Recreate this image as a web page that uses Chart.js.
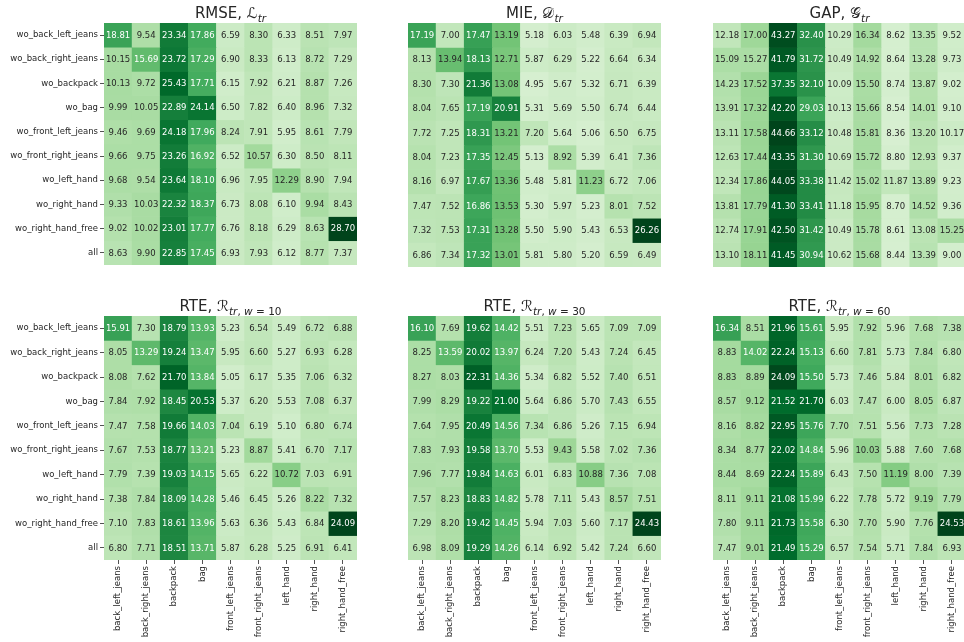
<!DOCTYPE html>
<html>
<head>
<meta charset="utf-8">
<script src="https://cdn.jsdelivr.net/npm/chart.js@4.4.1/dist/chart.umd.min.js"></script>
<style>
  html, body { margin: 0; padding: 0; background: #fff; overflow: hidden; width: 964px; height: 642px; }
  canvas { position: absolute; }
</style>
</head>
<body>
<canvas id="pRmse"></canvas>
<canvas id="pMie"></canvas>
<canvas id="pGap"></canvas>
<canvas id="pRte10"></canvas>
<canvas id="pRte30"></canvas>
<canvas id="pRte60"></canvas>
<script>
// Held-out scenario (rows) vs. evaluated sensor placement (columns)
const rowLabels = [
  'wo_back_left_jeans', 'wo_back_right_jeans', 'wo_backpack', 'wo_bag',
  'wo_front_left_jeans', 'wo_front_right_jeans', 'wo_left_hand', 'wo_right_hand',
  'wo_right_hand_free', 'all'
];
const colLabels = [
  'back_left_jeans', 'back_right_jeans', 'backpack', 'bag', 'front_left_jeans',
  'front_right_jeans', 'left_hand', 'right_hand', 'right_hand_free'
];

const rmse = [
  [18.81, 9.54, 23.34, 17.86, 6.59, 8.30, 6.33, 8.51, 7.97],
  [10.15, 15.69, 23.72, 17.29, 6.90, 8.33, 6.13, 8.72, 7.29],
  [10.13, 9.72, 25.43, 17.71, 6.15, 7.92, 6.21, 8.87, 7.26],
  [9.99, 10.05, 22.89, 24.14, 6.50, 7.82, 6.40, 8.96, 7.32],
  [9.46, 9.69, 24.18, 17.96, 8.24, 7.91, 5.95, 8.61, 7.79],
  [9.66, 9.75, 23.26, 16.92, 6.52, 10.57, 6.30, 8.50, 8.11],
  [9.68, 9.54, 23.64, 18.10, 6.96, 7.95, 12.29, 8.90, 7.94],
  [9.33, 10.03, 22.32, 18.37, 6.73, 8.08, 6.10, 9.94, 8.43],
  [9.02, 10.02, 23.01, 17.77, 6.76, 8.18, 6.29, 8.63, 28.70],
  [8.63, 9.90, 22.85, 17.45, 6.93, 7.93, 6.12, 8.77, 7.37]
];
const mie = [
  [17.19, 7.00, 17.47, 13.19, 5.18, 6.03, 5.48, 6.39, 6.94],
  [8.13, 13.94, 18.13, 12.71, 5.87, 6.29, 5.22, 6.64, 6.34],
  [8.30, 7.30, 21.36, 13.08, 4.95, 5.67, 5.32, 6.71, 6.39],
  [8.04, 7.65, 17.19, 20.91, 5.31, 5.69, 5.50, 6.74, 6.44],
  [7.72, 7.25, 18.31, 13.21, 7.20, 5.64, 5.06, 6.50, 6.75],
  [8.04, 7.23, 17.35, 12.45, 5.13, 8.92, 5.39, 6.41, 7.36],
  [8.16, 6.97, 17.67, 13.36, 5.48, 5.81, 11.23, 6.72, 7.06],
  [7.47, 7.52, 16.86, 13.53, 5.30, 5.97, 5.23, 8.01, 7.52],
  [7.32, 7.53, 17.31, 13.28, 5.50, 5.90, 5.43, 6.53, 26.26],
  [6.86, 7.34, 17.32, 13.01, 5.81, 5.80, 5.20, 6.59, 6.49]
];
const gap = [
  [12.18, 17.00, 43.27, 32.40, 10.29, 16.34, 8.62, 13.35, 9.52],
  [15.09, 15.27, 41.79, 31.72, 10.49, 14.92, 8.64, 13.28, 9.73],
  [14.23, 17.52, 37.35, 32.10, 10.09, 15.50, 8.74, 13.87, 9.02],
  [13.91, 17.32, 42.20, 29.03, 10.13, 15.66, 8.54, 14.01, 9.10],
  [13.11, 17.58, 44.66, 33.12, 10.48, 15.81, 8.36, 13.20, 10.17],
  [12.63, 17.44, 43.35, 31.30, 10.69, 15.72, 8.80, 12.93, 9.37],
  [12.34, 17.86, 44.05, 33.38, 11.42, 15.02, 11.87, 13.89, 9.23],
  [13.81, 17.79, 41.30, 33.41, 11.18, 15.95, 8.70, 14.52, 9.36],
  [12.74, 17.91, 42.50, 31.42, 10.49, 15.78, 8.61, 13.08, 15.25],
  [13.10, 18.11, 41.45, 30.94, 10.62, 15.68, 8.44, 13.39, 9.00]
];
const rte10 = [
  [15.91, 7.30, 18.79, 13.93, 5.23, 6.54, 5.49, 6.72, 6.88],
  [8.05, 13.29, 19.24, 13.47, 5.95, 6.60, 5.27, 6.93, 6.28],
  [8.08, 7.62, 21.70, 13.84, 5.05, 6.17, 5.35, 7.06, 6.32],
  [7.84, 7.92, 18.45, 20.53, 5.37, 6.20, 5.53, 7.08, 6.37],
  [7.47, 7.58, 19.66, 14.03, 7.04, 6.19, 5.10, 6.80, 6.74],
  [7.67, 7.53, 18.77, 13.21, 5.23, 8.87, 5.41, 6.70, 7.17],
  [7.79, 7.39, 19.03, 14.15, 5.65, 6.22, 10.72, 7.03, 6.91],
  [7.38, 7.84, 18.09, 14.28, 5.46, 6.45, 5.26, 8.22, 7.32],
  [7.10, 7.83, 18.61, 13.96, 5.63, 6.36, 5.43, 6.84, 24.09],
  [6.80, 7.71, 18.51, 13.71, 5.87, 6.28, 5.25, 6.91, 6.41]
];
const rte30 = [
  [16.10, 7.69, 19.62, 14.42, 5.51, 7.23, 5.65, 7.09, 7.09],
  [8.25, 13.59, 20.02, 13.97, 6.24, 7.20, 5.43, 7.24, 6.45],
  [8.27, 8.03, 22.31, 14.36, 5.34, 6.82, 5.52, 7.40, 6.51],
  [7.99, 8.29, 19.22, 21.00, 5.64, 6.86, 5.70, 7.43, 6.55],
  [7.64, 7.95, 20.49, 14.56, 7.34, 6.86, 5.26, 7.15, 6.94],
  [7.83, 7.93, 19.58, 13.70, 5.53, 9.43, 5.58, 7.02, 7.36],
  [7.96, 7.77, 19.84, 14.63, 6.01, 6.83, 10.88, 7.36, 7.08],
  [7.57, 8.23, 18.83, 14.82, 5.78, 7.11, 5.43, 8.57, 7.51],
  [7.29, 8.20, 19.42, 14.45, 5.94, 7.03, 5.60, 7.17, 24.43],
  [6.98, 8.09, 19.29, 14.26, 6.14, 6.92, 5.42, 7.24, 6.60]
];
const rte60 = [
  [16.34, 8.51, 21.96, 15.61, 5.95, 7.92, 5.96, 7.68, 7.38],
  [8.83, 14.02, 22.24, 15.13, 6.60, 7.81, 5.73, 7.84, 6.80],
  [8.83, 8.89, 24.09, 15.50, 5.73, 7.46, 5.84, 8.01, 6.82],
  [8.57, 9.12, 21.52, 21.70, 6.03, 7.47, 6.00, 8.05, 6.87],
  [8.16, 8.82, 22.95, 15.76, 7.70, 7.51, 5.56, 7.73, 7.28],
  [8.34, 8.77, 22.02, 14.84, 5.96, 10.03, 5.88, 7.60, 7.68],
  [8.44, 8.69, 22.24, 15.89, 6.43, 7.50, 11.19, 8.00, 7.39],
  [8.11, 9.11, 21.08, 15.99, 6.22, 7.78, 5.72, 9.19, 7.79],
  [7.80, 9.11, 21.73, 15.58, 6.30, 7.70, 5.90, 7.76, 24.53],
  [7.47, 9.01, 21.49, 15.29, 6.57, 7.54, 5.71, 7.84, 6.93]
];

// Title pieces: [text, style]; styles: rm, cal, sub (upright subscript), subit (italic subscript)
const titleRmse = [['RMSE, ', 'rm'], ['\u2112', 'cal'], ['tr', 'subit']];
const titleMie = [['MIE, ', 'rm'], ['\u{1D49F}', 'cal'], ['tr', 'subit']];
const titleGap = [['GAP, ', 'rm'], ['\u{1D4A2}', 'cal'], ['tr', 'subit']];
const titleRte10 = [['RTE, ', 'rm'], ['\u211B', 'cal'], ['tr', 'subit'], [', ', 'sub'], ['w', 'subit'], [' = 10', 'sub']];
const titleRte30 = [['RTE, ', 'rm'], ['\u211B', 'cal'], ['tr', 'subit'], [', ', 'sub'], ['w', 'subit'], [' = 30', 'sub']];
const titleRte60 = [['RTE, ', 'rm'], ['\u211B', 'cal'], ['tr', 'subit'], [', ', 'sub'], ['w', 'subit'], [' = 60', 'sub']];

// matplotlib "Greens" anchor colours
const GREENS = [
  [247, 252, 245], [229, 245, 224], [199, 233, 192], [161, 217, 155], [116, 196, 118],
  [65, 171, 93], [35, 139, 69], [0, 109, 44], [0, 68, 27]
];
function greens(t) {
  t = Math.max(0, Math.min(1, t));
  const k = Math.min(255, Math.floor(t * 256));
  const p = (k / 255) * (GREENS.length - 1);
  const i = Math.min(GREENS.length - 2, Math.floor(p));
  const f = p - i;
  return GREENS[i].map((c, n) => c + (GREENS[i + 1][n] - c) * f);
}
function luminance(rgb) {
  const lin = rgb.map(c => {
    c /= 255;
    return c <= 0.03928 ? c / 12.92 : Math.pow((c + 0.055) / 1.055, 2.4);
  });
  return 0.2126 * lin[0] + 0.7152 * lin[1] + 0.0722 * lin[2];
}
const css = rgb => `rgb(${rgb.map(Math.round).join(',')})`;

const INK = '#262626';
const FONT = 'DejaVu Sans';

function titlePlugin(parts, baseline) {
  const styles = {
    rm: { font: `15px "${FONT}"`, dy: 0 },
    cal: { font: `15px "${FONT}"`, dy: 0 },
    sub: { font: `10.5px "${FONT}"`, dy: 3.5 },
    subit: { font: `italic 10.5px "${FONT}"`, dy: 3.5 }
  };
  return {
    id: 'heatTitle',
    afterDraw(chart) {
      const ctx = chart.ctx;
      const area = chart.chartArea;
      ctx.save();
      ctx.fillStyle = INK;
      ctx.textBaseline = 'alphabetic';
      ctx.textAlign = 'left';
      let total = 0;
      const widths = parts.map(([t, s]) => { ctx.font = styles[s].font; const w = ctx.measureText(t).width; total += w; return w; });
      let x = (area.left + area.right) / 2 - total / 2;
      parts.forEach(([t, s], i) => {
        ctx.font = styles[s].font;
        ctx.fillText(t, x, baseline + styles[s].dy);
        x += widths[i];
      });
      ctx.restore();
    }
  };
}

const cellText = {
  id: 'cellText',
  afterDatasetsDraw(chart) {
    const ctx = chart.ctx;
    ctx.save();
    ctx.font = `8.5px "${FONT}"`;
    ctx.textAlign = 'center';
    ctx.textBaseline = 'middle';
    chart.data.datasets.forEach((ds, i) => {
      chart.getDatasetMeta(i).data.forEach((bar, j) => {
        const { x, y, base } = bar.getProps(['x', 'y', 'base'], true);
        ctx.fillStyle = luminance(ds.rgb[j]) > 0.408 ? INK : '#ffffff';
        ctx.fillText(ds.values[j].toFixed(2), x, (y + base) / 2 + 0.5);
      });
    });
    ctx.restore();
  }
};

const panels = [
  { id: 'pRmse', values: rmse, title: titleRmse, col: 0, row: 0 },
  { id: 'pMie', values: mie, title: titleMie, col: 1, row: 0 },
  { id: 'pGap', values: gap, title: titleGap, col: 2, row: 0 },
  { id: 'pRte10', values: rte10, title: titleRte10, col: 0, row: 1 },
  { id: 'pRte30', values: rte30, title: titleRte30, col: 1, row: 1 },
  { id: 'pRte60', values: rte60, title: titleRte60, col: 2, row: 1 }
];

const areaLeft = [104, 408, 713];
const AREA_W = 253;
const Y_AXIS_W = 104;
const X_AXIS_H = 82;

panels.forEach(p => {
  const canvas = document.getElementById(p.id);
  const showY = p.col === 0;
  const showX = p.row === 1;
  const left = showY ? areaLeft[p.col] - Y_AXIS_W : areaLeft[p.col];
  const width = (showY ? Y_AXIS_W : 0) + AREA_W + 3;
  const top = p.row === 0 ? 0 : 290;
  const height = p.row === 0 ? 272 : 352;
  const padTop = p.row === 0 ? 23 : 26;
  canvas.width = width;
  canvas.height = height;
  canvas.style.left = left + 'px';
  canvas.style.top = top + 'px';

  const vmax = Math.max(...p.values.flat());
  const datasets = rowLabels.map((name, i) => {
    const rgb = p.values[i].map(v => greens(v / vmax));
    return {
      label: name,
      data: colLabels.map(() => [i, i + 1]),
      values: p.values[i],
      rgb,
      backgroundColor: rgb.map(css),
      borderWidth: 0,
      barPercentage: 1,
      categoryPercentage: 1
    };
  });

  const xScale = {
    type: 'category',
    stacked: true,
    display: showX,
    border: { display: false },
    grid: { offset: false, drawOnChartArea: false, drawTicks: true, tickLength: 4, color: INK, lineWidth: 0.8 },
    ticks: { autoSkip: false, minRotation: 90, maxRotation: 90, padding: 2, color: INK, font: { family: FONT, size: 8.5 } }
  };
  if (showX) xScale.afterFit = s => { s.height = X_AXIS_H; };

  const yScale = {
    type: 'linear',
    stacked: false,
    min: 0,
    max: rowLabels.length,
    reverse: true,
    display: showY,
    afterBuildTicks: s => { s.ticks = rowLabels.map((_, i) => ({ value: i + 0.5 })); },
    border: { display: false },
    grid: { drawOnChartArea: false, drawTicks: true, tickLength: 4, color: INK, lineWidth: 0.8 },
    ticks: { autoSkip: false, padding: 2, color: INK, font: { family: FONT, size: 8.5 }, callback: (v, i) => rowLabels[i] }
  };
  if (showY) yScale.afterFit = s => { s.width = Y_AXIS_W; };

  new Chart(canvas, {
    type: 'bar',
    data: { labels: colLabels, datasets },
    options: {
      responsive: false,
      animation: false,
      events: [],
      layout: { padding: { top: padTop, right: 3, bottom: showX ? 0 : 5, left: 0 } },
      plugins: { legend: { display: false }, tooltip: { enabled: false }, title: { display: false } },
      scales: { x: xScale, y: yScale }
    },
    plugins: [cellText, titlePlugin(p.title, p.row === 0 ? 18 : 21)]
  });
});
</script>
</body>
</html>
